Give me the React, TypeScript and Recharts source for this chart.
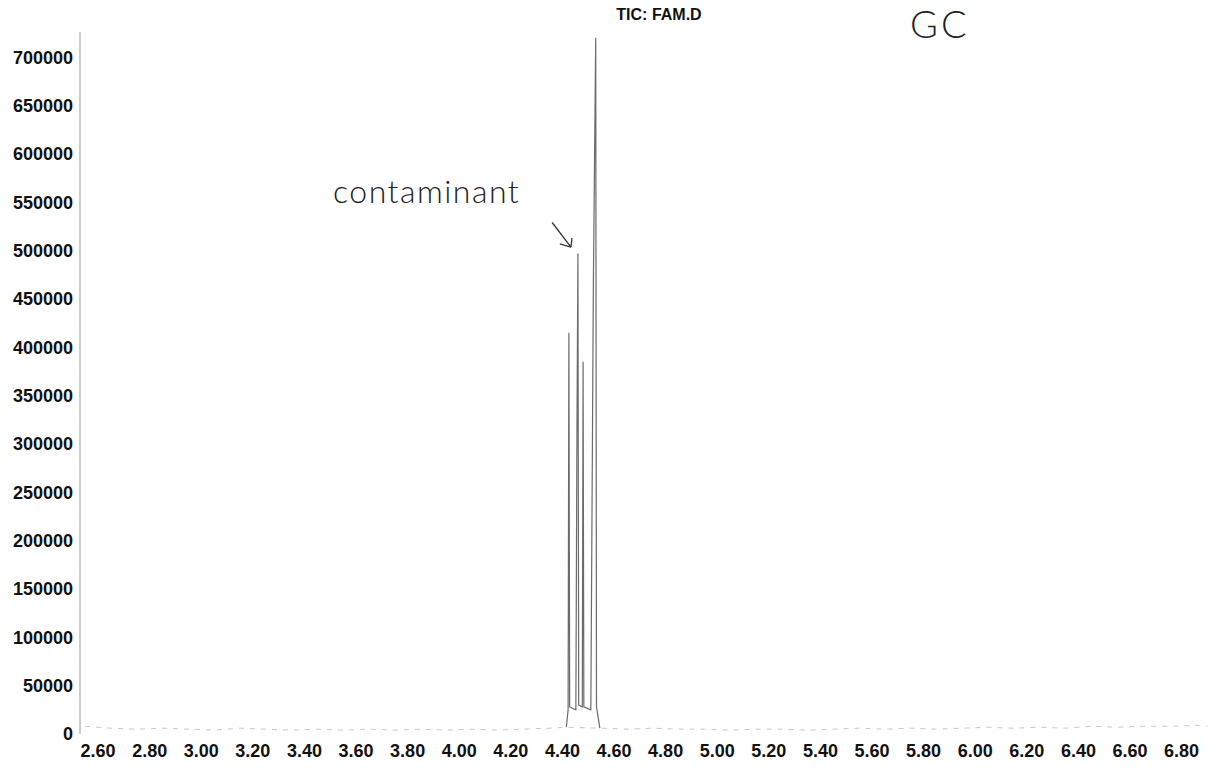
import { LineChart, Line, XAxis, YAxis, ReferenceLine } from 'recharts';

// retention time (min) and abundance
const baseTimes = [
  2.55, 2.65, 2.75, 2.85, 2.95, 3.05, 3.15, 3.25, 3.35, 3.45, 3.55, 3.65, 3.75, 3.85, 3.95, 4.05,
  4.15, 4.25, 4.35, 4.41, 4.55, 4.65, 4.75, 4.85, 4.95, 5.05, 5.15, 5.25, 5.35, 5.45, 5.55, 5.65,
  5.75, 5.85, 5.95, 6.05, 6.15, 6.25, 6.35, 6.45, 6.55, 6.65, 6.75, 6.85, 6.9,
];
const baseValues = [
  8000, 6000, 5000, 6000, 5000, 4000, 6000, 5000, 4000, 5000, 4000, 5000, 4000, 5000, 4000, 5000,
  4000, 5000, 6000, 7000, 6000, 5000, 6000, 5000, 5000, 4000, 5000, 5000, 4000, 5000, 6000, 5000,
  6000, 5000, 6000, 7000, 6000, 7000, 6000, 8000, 7000, 8000, 8000, 9000, 8000,
];

const peakTimes = [
  4.415, 4.422, 4.425, 4.428, 4.452, 4.456, 4.46, 4.463, 4.477, 4.48, 4.483, 4.51, 4.52, 4.529,
  4.532, 4.545,
];
const peakValues = [
  7000, 25000, 415000, 28000, 25000, 300000, 497000, 30000, 28000, 385000, 28000, 25000, 470000,
  720000, 28000, 6000,
];

const xTicks = [
  2.6, 2.8, 3.0, 3.2, 3.4, 3.6, 3.8, 4.0, 4.2, 4.4, 4.6, 4.8, 5.0, 5.2, 5.4, 5.6, 5.8, 6.0, 6.2,
  6.4, 6.6, 6.8,
];
const yTicks = [
  0, 50000, 100000, 150000, 200000, 250000, 300000, 350000, 400000, 450000, 500000, 550000,
  600000, 650000, 700000,
];

const data = [
  ...baseTimes.map((t, i) => ({ t, base: baseValues[i] })),
  ...peakTimes.map((t, i) => ({ t, peak: peakValues[i] })),
].sort((a, b) => a.t - b.t);

const FONT = '"Liberation Sans", Arial, sans-serif';
const HAND = 'Lato, "Open Sans", sans-serif';

export default function App() {
  return (
    <div style={{ position: 'absolute', left: 0, top: 0, background: '#fff' }}>
      <LineChart width={1220} height={773} data={data} margin={{ top: 32, right: 10, left: 0, bottom: 9 }}>
        <XAxis
          dataKey="t"
          type="number"
          domain={[2.53, 6.91]}
          ticks={xTicks}
          allowDataOverflow
          axisLine={false}
          tickLine={false}
          height={30}
          tickMargin={4}
          tick={{ fill: '#111', fontSize: 18, fontWeight: 'bold', fontFamily: FONT }}
          tickFormatter={(v: number) => v.toFixed(2)}
        />
        <YAxis
          type="number"
          domain={[0, 726000]}
          ticks={yTicks}
          allowDataOverflow
          width={80}
          axisLine={{ stroke: '#999', strokeWidth: 1 }}
          tickLine={false}
          tickMargin={1}
          tick={{ fill: '#111', fontSize: 18, fontWeight: 'bold', fontFamily: FONT }}
          interval={0}
        />
        <Line
          dataKey="base"
          type="linear"
          stroke="#c8c8c8"
          strokeWidth={1}
          strokeDasharray="5 6"
          dot={false}
          connectNulls
          isAnimationActive={false}
        />
        <Line
          dataKey="peak"
          type="linear"
          stroke="#6a6a6a"
          strokeWidth={1.2}
          dot={false}
          connectNulls
          isAnimationActive={false}
        />
        {/* hand-drawn arrow pointing at the contaminant peak */}
        <ReferenceLine
          segment={[{ x: 4.36, y: 529000 }, { x: 4.433, y: 503500 }]}
          stroke="#333"
          strokeWidth={1.3}
        />
        <ReferenceLine
          segment={[{ x: 4.39, y: 507000 }, { x: 4.433, y: 503500 }]}
          stroke="#333"
          strokeWidth={1.3}
        />
        <ReferenceLine
          segment={[{ x: 4.437, y: 513000 }, { x: 4.433, y: 503500 }]}
          stroke="#333"
          strokeWidth={1.3}
        />
        <text x={659} y={20} textAnchor="middle" fontFamily={FONT} fontWeight="bold" fontSize={16} fill="#111">
          TIC: FAM.D
        </text>
        <text x={910} y={38} fontFamily={HAND} fontWeight={300} fontSize={38} fill="#222" letterSpacing={3}>
          GC
        </text>
        <text x={333} y={203} fontFamily={HAND} fontWeight={300} fontSize={32} fill="#222" letterSpacing={1.5}>
          contaminant
        </text>
      </LineChart>
    </div>
  );
}
